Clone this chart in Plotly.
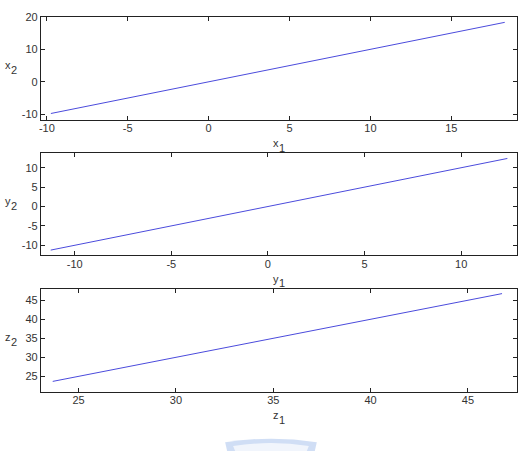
import plotly.graph_objects as go

# data
x1 = [-9.75, -5.0, 0.0, 5.0, 10.0, 15.0, 18.3]
x2 = [-9.75, -5.0, 0.0, 5.0, 10.0, 15.0, 18.3]
y1 = [-11.24, -5.0, 0.0, 5.0, 10.0, 12.39]
y2 = [-11.24, -5.0, 0.0, 5.0, 10.0, 12.39]
z1 = [23.67, 30.0, 35.0, 40.0, 46.75]
z2 = [23.67, 30.0, 35.0, 40.0, 46.75]

xticks1 = [-10, -5, 0, 5, 10, 15]
yticks1 = [-10, 0, 10, 20]
xticks2 = [-10, -5, 0, 5, 10]
yticks2 = [-10, -5, 0, 5, 10]
xticks3 = [25, 30, 35, 40, 45]
yticks3 = [25, 30, 35, 40, 45]

W, H = 526, 452
def px(v):
    return v / W
def py(v):
    return 1 - v / H

line_color = "#4b4bdc"
fnt = dict(family="Liberation Sans, Arial, sans-serif", size=11, color="#333333")

def lab(t):
    return [str(v) for v in t]

def name_label(cx, cy, base, sub):
    fig.add_annotation(x=px(cx - 3), y=py(cy), xref="paper", yref="paper",
                       text=base, showarrow=False, font=fnt,
                       xanchor="center", yanchor="middle")
    fig.add_annotation(x=px(cx + 3), y=py(cy + 5), xref="paper", yref="paper",
                       text=sub, showarrow=False, font=fnt,
                       xanchor="center", yanchor="middle")

fig = go.Figure()
panels = [
    (x1, x2, xticks1, yticks1, [-10.37, 19.06], [-11.6, 20.0], (11, 115.3), "x"),
    (y1, y2, xticks2, yticks2, [-11.75, 12.89], [-12.6, 13.8], (149.3, 253.3), "y"),
    (z1, z2, xticks3, yticks3, [23.06, 47.52], [20.9, 48.0], (287.3, 392), "z"),
]
layout = {}
for i, (a, b, xt, yt, xr, yr, (top, bot), name) in enumerate(panels):
    n = "" if i == 0 else str(i + 1)
    fig.add_trace(go.Scatter(x=a, y=b, mode="lines",
                             line=dict(color=line_color, width=1),
                             xaxis="x" + n, yaxis="y" + n, showlegend=False))
    common = dict(showgrid=False, zeroline=False, showline=True, linecolor="#222222",
                  linewidth=1, mirror="allticks", ticks="inside", ticklen=4,
                  tickcolor="#222222", tickfont=fnt)
    layout["xaxis" + n] = dict(domain=[px(39), px(517)], range=xr, tickvals=xt,
                               ticktext=lab(xt), anchor="y" + n,
                               ticklabelstandoff=-2, **common)
    layout["yaxis" + n] = dict(domain=[py(bot), py(top)], range=yr, tickvals=yt,
                               ticktext=lab(yt), anchor="x" + n, **common)
    name_label(278, bot + 23.5, name, "1")
    name_label(9, (top + bot) / 2 - 3, name, "2")

# faint watermark at the bottom
fig.add_shape(type="path", xref="paper", yref="paper",
              path=(f"M {px(224)} {py(443)} Q {px(270)} {py(436)} {px(316)} {py(443)} "
                    f"L {px(314)} {py(452)} L {px(226)} {py(452)} Z"),
              fillcolor="rgba(120,160,225,0.35)", line=dict(width=0))
fig.add_shape(type="path", xref="paper", yref="paper",
              path=(f"M {px(232)} {py(447)} Q {px(270)} {py(441)} {px(308)} {py(447)} "
                    f"L {px(306)} {py(452)} L {px(234)} {py(452)} Z"),
              fillcolor="rgba(255,255,255,0.7)", line=dict(width=0))

fig.update_layout(width=W, height=H, margin=dict(l=0, r=0, t=0, b=0),
                  paper_bgcolor="white", plot_bgcolor="white", font=fnt, **layout)
fig.write_html("out.html")
